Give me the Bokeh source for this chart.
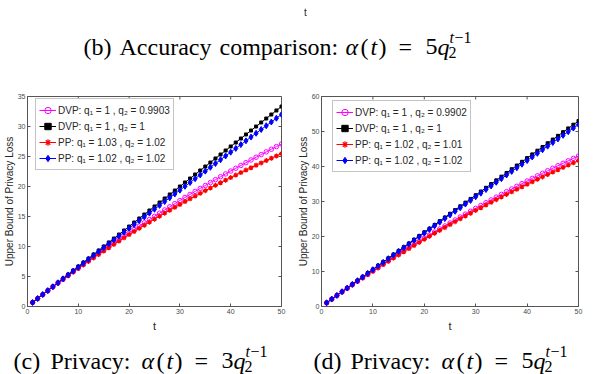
from bokeh.plotting import figure
from bokeh.layouts import column, row
from bokeh.models import Range1d, FixedTicker, Legend, LegendItem
from bokeh.embed import file_html
from bokeh.resources import INLINE
from bokeh.core.properties import value

# ---------------- data ----------------
t = list(range(1, 51))

# (c) Privacy: alpha(t) = 3 q2^(t-1)
c_dvp_09903 = [0.67,1.33,1.98,2.63,3.28,3.92,4.55,5.18,5.80,6.41,7.02,7.63,8.23,8.82,9.41,10.00,10.58,11.15,11.72,12.28,
               12.84,13.40,13.95,14.49,15.03,15.56,16.09,16.62,17.14,17.66,18.17,18.68,19.18,19.68,20.17,20.66,21.14,21.63,22.10,22.58,
               23.04,23.51,23.97,24.42,24.88,25.32,25.77,26.21,26.65,27.08]
c_dvp_1 = [0.67,1.33,2.00,2.67,3.33,4.00,4.67,5.33,6.00,6.67,7.33,8.00,8.67,9.33,10.00,10.67,11.33,12.00,12.67,13.33,
           14.00,14.67,15.33,16.00,16.67,17.33,18.00,18.67,19.33,20.00,20.67,21.33,22.00,22.67,23.33,24.00,24.67,25.33,26.00,26.67,
           27.33,28.00,28.67,29.33,30.00,30.67,31.33,32.00,32.67,33.33]
c_pp_103_102 = [0.67,1.33,1.98,2.62,3.26,3.89,4.51,5.13,5.73,6.34,6.93,7.52,8.10,8.67,9.24,9.80,10.35,10.90,11.44,11.98,
                12.51,13.03,13.55,14.06,14.56,15.06,15.56,16.05,16.53,17.01,17.48,17.94,18.40,18.86,19.31,19.75,20.19,20.63,21.06,21.48,
                21.90,22.32,22.73,23.13,23.54,23.93,24.32,24.71,25.09,25.47]
c_pp_102_102 = [0.67,1.33,1.99,2.65,3.30,3.96,4.61,5.26,5.91,6.56,7.21,7.86,8.51,9.15,9.80,10.44,11.08,11.73,12.37,13.01,
                13.65,14.30,14.93,15.57,16.21,16.85,17.49,18.12,18.76,19.39,20.03,20.66,21.30,21.93,22.56,23.20,23.83,24.46,25.09,25.72,
                26.35,26.98,27.61,28.24,28.87,29.50,30.12,30.75,31.38,32.00]

# (d) Privacy: alpha(t) = 5 q2^(t-1)
d_dvp_09902 = [1.06,2.11,3.15,4.18,5.20,6.22,7.22,8.22,9.20,10.18,11.15,12.12,13.07,14.01,14.95,15.88,16.80,17.71,18.61,19.51,
               20.39,21.27,22.15,23.01,23.87,24.71,25.56,26.39,27.22,28.04,28.85,29.66,30.45,31.25,32.03,32.81,33.58,34.34,35.10,35.85,
               36.59,37.33,38.06,38.79,39.50,40.22,40.92,41.62,42.31,43.00]
d_dvp_1 = [1.06,2.12,3.18,4.24,5.30,6.36,7.42,8.48,9.54,10.60,11.66,12.72,13.78,14.84,15.90,16.96,18.02,19.08,20.14,21.20,
           22.26,23.32,24.38,25.44,26.50,27.56,28.62,29.68,30.74,31.80,32.86,33.92,34.98,36.04,37.10,38.16,39.22,40.28,41.34,42.40,
           43.46,44.52,45.58,46.64,47.70,48.76,49.82,50.88,51.94,53.00]
d_pp_102_101 = [1.06,2.10,3.14,4.16,5.17,6.18,7.17,8.15,9.12,10.08,11.03,11.98,12.91,13.83,14.75,15.65,16.55,17.44,18.32,19.19,
                20.05,20.91,21.75,22.59,23.42,24.24,25.05,25.86,26.66,27.45,28.23,29.00,29.77,30.53,31.28,32.02,32.76,33.49,34.21,34.93,
                35.63,36.34,37.03,37.72,38.40,39.07,39.74,40.40,41.05,41.70]
d_pp_102_102 = [1.06,2.12,3.17,4.23,5.28,6.33,7.38,8.43,9.47,10.52,11.57,12.61,13.66,14.70,15.75,16.79,17.83,18.88,19.92,20.96,
                22.00,23.04,24.08,25.12,26.16,27.20,28.23,29.27,30.31,31.35,32.38,33.42,34.45,35.49,36.52,37.56,38.59,39.62,40.66,41.69,
                42.72,43.76,44.79,45.82,46.85,47.88,48.91,49.94,50.97,52.00]

c_labels = ["DVP: q\u2081 = 1 , q\u2082 = 0.9903", "DVP: q\u2081 = 1 , q\u2082 = 1",
            "PP: q\u2081 = 1.03 , q\u2082 = 1.02", "PP: q\u2081 = 1.02 , q\u2082 = 1.02"]
d_labels = ["DVP: q\u2081 = 1 , q\u2082 = 0.9902", "DVP: q\u2081 = 1 , q\u2082 = 1",
            "PP: q\u2081 = 1.02 , q\u2082 = 1.01", "PP: q\u2081 = 1.02 , q\u2082 = 1.02"]

x_ticks = [0, 10, 20, 30, 40, 50]
c_y_ticks = [0, 5, 10, 15, 20, 25, 30, 35]
d_y_ticks = [0, 10, 20, 30, 40, 50, 60]
x_max = 50
c_y_max = 35
d_y_max = 60
x_label = "t"
y_label = "Upper Bound of Privacy Loss"

# ---------------- styles ----------------
AX = "#555555"
TICK_TXT = "#4a4a4a"
SANS = "Liberation Sans"
SERIF = "Liberation Serif"

styles = [
    dict(color="#FF00FF", marker="circle", size=4.5, fill=None, lw=1.0),
    dict(color="#000000", marker="square", size=3.0, fill="#000000", lw=1.0),
    dict(color="#FF0000", marker="asterisk", size=5.0, fill="#FF0000", lw=1.2),
    dict(color="#0000FF", marker="diamond", size=6.0, fill="#0000FF", lw=1.0),
]


def style_axis(ax):
    ax.axis_line_color = AX
    ax.major_tick_line_color = AX
    ax.major_tick_in = 3
    ax.major_tick_out = 0
    ax.minor_tick_line_color = None
    ax.major_label_text_font = SANS
    ax.major_label_text_color = TICK_TXT
    ax.major_label_text_font_size = "7px"
    ax.major_label_standoff = 2
    ax.axis_label_text_font = SANS
    ax.axis_label_text_font_style = "normal"
    ax.axis_label_text_color = "#262626"


def make_plot(w, mbl, mbr, ymax, yticks, series, labels, loc):
    p = figure(width=w, height=272, output_backend="svg", toolbar_location=None,
               x_range=Range1d(0, x_max), y_range=Range1d(0, ymax),
               min_border_left=mbl, min_border_right=mbr, min_border_top=34, min_border_bottom=28)
    p.grid.visible = False
    p.outline_line_color = AX
    p.background_fill_color = "white"
    p.border_fill_color = "white"

    xa = p.xaxis[0]
    ya = p.yaxis[0]
    style_axis(xa)
    style_axis(ya)
    xa.ticker = FixedTicker(ticks=x_ticks)
    ya.ticker = FixedTicker(ticks=yticks)
    xa.axis_label = x_label
    xa.axis_label_text_font_size = "11px"
    xa.axis_label_standoff = 3
    ya.axis_label = y_label
    ya.axis_label_text_font_size = "10px"
    ya.axis_label_standoff = 0

    # inward box ticks on the top and right edges (MATLAB "box on")
    p.ray(x=x_ticks, y=[ymax] * len(x_ticks), length=3, length_units="screen",
          angle=-90, angle_units="deg", line_color=AX, line_width=1)
    p.ray(x=[x_max] * len(yticks), y=yticks, length=3, length_units="screen",
          angle=180, angle_units="deg", line_color=AX, line_width=1)

    items = []
    for ys, lab, st in zip(series, labels, styles):
        ln = p.line(t, ys, line_color=st["color"], line_width=1)
        sc = p.scatter(t, ys, marker=st["marker"], size=st["size"], line_color=st["color"],
                       fill_color=st["fill"], line_width=st["lw"])
        items.append(LegendItem(label=lab, renderers=[ln, sc]))

    leg = Legend(items=items, location=loc, orientation="vertical",
                 label_text_font=SANS, label_text_font_size="10px", label_text_color="#262626",
                 label_height=16, glyph_height=16, glyph_width=17, label_standoff=2,
                 spacing=0, padding=3, margin=0,
                 border_line_color="#8a8a8a", border_line_width=1,
                 background_fill_color="white", background_fill_alpha=1.0)
    p.add_layout(leg)
    return p


left = make_plot(292, 23, 11, c_y_max, c_y_ticks,
                 [c_dvp_09903, c_dvp_1, c_pp_103_102, c_pp_102_102], c_labels, (8, 136))
right = make_plot(314, 29, 28, d_y_max, d_y_ticks,
                  [d_dvp_09902, d_dvp_1, d_pp_102_101, d_pp_102_102], d_labels, (11, 134))


def caption_fig(h, y_top, y_bot):
    f = figure(width=606, height=h, output_backend="svg", toolbar_location=None,
               x_range=Range1d(0, 606), y_range=Range1d(y_bot, y_top),
               x_axis_type=None, y_axis_type=None,
               min_border_left=0, min_border_right=0, min_border_top=0, min_border_bottom=0)
    f.grid.visible = False
    f.outline_line_color = None
    f.background_fill_color = "white"
    f.border_fill_color = "white"
    return f


def put(f, x, y, txt, size, style="normal", font=SERIF, color="black", align="left", baseline="alphabetic"):
    f.text(x=[x], y=[y], text=[txt], text_font=value(font), text_font_size=size,
           text_font_style=style, text_color=color, text_align=align, text_baseline=baseline)


def formula(f, x0, base, coef, F="24px", S="16px"):
    # alpha(t) = coef * q_2^{t-1}; offsets are relative to the start of alpha
    put(f, x0, base, "\u03b1", F, "italic")
    put(f, x0 + 15, base, "(", F)
    put(f, x0 + 25, base, "t", F, "italic")
    put(f, x0 + 33, base, ")", F)
    put(f, x0 + 53, base, "=", F)
    put(f, x0 + 80, base, coef, F)
    put(f, x0 + 92, base, "q", F, "italic")
    put(f, x0 + 104, base - 9, "t", S, "italic")
    put(f, x0 + 109, base - 9, "\u22121", S)
    put(f, x0 + 103, base + 6, "2", S)


# top strip: x label of the figure above and caption (b)
topf = caption_fig(62, 0, 62)
put(topf, 305, 12, "t", "10px", font=SANS, color="#262626", align="center", baseline="middle")
put(topf, 83, 46, "(b)", "24px")
put(topf, 119, 46, "Accuracy", "24px")
put(topf, 219, 46, "comparison:", "24px")
formula(topf, 345, 46, "5")

# bottom strip: captions (c) and (d)
botf = caption_fig(40, 334, 374)
put(botf, 13, 360, "(c)", "24px")
put(botf, 50, 360, "Privacy:", "24px")
formula(botf, 141, 360, "3")
put(botf, 313, 360, "(d)", "24px")
put(botf, 350, 360, "Privacy:", "24px")
formula(botf, 441, 360, "5")

layout = column(topf, row(left, right, spacing=0), botf, spacing=0)

open("out.html", "w").write(file_html(layout, INLINE))
